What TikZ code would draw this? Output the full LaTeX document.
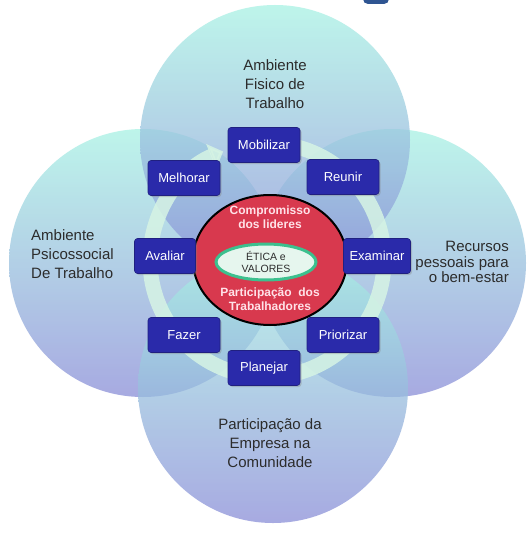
\documentclass[tikz,border=0pt]{standalone}
\usepackage{fontspec}
\setmainfont{Liberation Sans}
\usetikzlibrary{shadows,arrows.meta,shapes.geometric}
\definecolor{boxblue}{HTML}{2A2AAA}
\definecolor{circtop}{HTML}{A8F2E4}
\definecolor{circbot}{HTML}{8A8ED8}
\definecolor{ringcol}{HTML}{D6F4E4}
\definecolor{redfill}{HTML}{D8394E}
\definecolor{redtext}{HTML}{FFE2E8}
\definecolor{ethfill}{HTML}{E6F6EE}
\definecolor{ethline}{HTML}{3CC08E}
\definecolor{labelcol}{HTML}{2C2C2C}
\definecolor{blobcol}{HTML}{2F5592}
\tikzset{
  bigcirc/.style={top color=circtop, bottom color=circbot, fill opacity=0.75},
  stepbox/.style={rectangle, rounded corners=3pt, fill=boxblue, draw=boxblue!75!black,
    line width=0.6pt, text=white, font=\fontsize{13}{15}\selectfont,
    minimum width=72pt, minimum height=35pt, inner sep=2pt,
    drop shadow={opacity=0.35, shadow xshift=1.5pt, shadow yshift=-1.5pt}},
  outerlabel/.style={text=labelcol, font=\fontsize{15}{19}\selectfont, inner sep=0pt},
  redlabel/.style={text=redtext, align=center, font=\bfseries\fontsize{12}{14}\selectfont, inner sep=0pt},
}
\begin{document}
\begin{tikzpicture}[x=1pt,y=-1pt]
\useasboundingbox (0,0) rectangle (529,535);
\fill[white] (0,0) rectangle (529,535);
% partial blob at top
\fill[blobcol, rounded corners=5pt] (363,-12) rectangle (389,4);
% four circles
\shade[bigcirc] (143,263) circle (134pt);
\shade[bigcirc] (392,263) circle (134pt);
\shade[bigcirc] (275,140) circle (135pt);
\shade[bigcirc] (273,388) circle (135pt);
% circular arrow ring
\coordinate (ringc) at (267,260);
\draw[ringcol, line width=15pt, opacity=0.85,
  -{Triangle[width=26pt,length=13pt]}]
  (ringc) ++(84:117pt) arc[start angle=84, end angle=-248, radius=117pt];
% red core
\node[ellipse, draw=black, line width=2pt, fill=redfill, minimum width=154pt, minimum height=130pt, inner sep=0pt] (core) at (270,260) {};
\node[ellipse, draw=ethline, line width=3pt, fill=ethfill, minimum width=100pt, minimum height=36pt, inner sep=0pt,
  align=center, text=labelcol, font=\fontsize{10.5}{12.5}\selectfont] (etica) at (266,262) {ÉTICA e\\VALORES};
\node[redlabel] (comp) at (270,217) {Compromisso\\dos lideres};
\node[redlabel] (part) at (270,299) {Participação\ \ dos\\Trabalhadores};
% steps
\node[stepbox] (mob) at (264,145) {Mobilizar};
\node[stepbox] (reu) at (343,177) {Reunir};
\node[stepbox] (mel) at (184,178) {Melhorar};
\node[stepbox, minimum width=61pt] (ava) at (165,256) {Avaliar};
\node[stepbox, minimum width=67pt] (exa) at (377,256) {Examinar};
\node[stepbox] (faz) at (184,335) {Fazer};
\node[stepbox] (pri) at (343,335) {Priorizar};
\node[stepbox] (pla) at (264,368) {Planejar};
% outer labels
\node[outerlabel, align=center] (fis) at (275,84) {Ambiente\\Fisico de\\Trabalho};
\node[outerlabel, align=left, anchor=west] (psi) at (31,254) {Ambiente\\Psicossocial\\De Trabalho};
\node[outerlabel, align=right, anchor=east, font=\fontsize{15}{15.5}\selectfont] (rec) at (509,262) {Recursos\\pessoais para\\o bem-estar};
\node[outerlabel, align=center] (emp) at (270,443) {Participação da\\Empresa na\\Comunidade};
\end{tikzpicture}
\end{document}
